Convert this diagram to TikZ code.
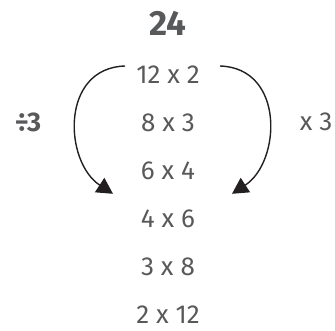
\documentclass[tikz,border=0pt]{standalone}
\usepackage{fontspec}
\setmainfont{Fira Sans}
\usetikzlibrary{arrows.meta}

\definecolor{txtgrey}{HTML}{58595B}
\definecolor{arcblack}{HTML}{231F20}

\begin{document}
\begin{tikzpicture}[
            x=1pt, y=-1pt,
            fact/.style={text=txtgrey, inner sep=1pt, font=\fontsize{26}{30}\selectfont},
            total/.style={text=txtgrey, inner sep=1pt, font=\fontsize{35}{40}\selectfont\bfseries},
            arc/.style={-{Triangle[length=16pt,width=17pt]}, line width=1.4pt, draw=arcblack}]

            \useasboundingbox (0,0) rectangle (335,331);

            \node[total] (top) at (168,23) {24};

            % factor pairs, one row each
            \foreach \txt [count=\i] in {12 x 2, 8 x 3, 6 x 4, 4 x 6, 3 x 8, 2 x 12}
                \node[fact] (r\i) at (168,{74.5+48.1*(\i-1)}) {\txt};

            \node[fact, font=\fontsize{27}{30}\selectfont\bfseries] (div) at (28,122) {÷3};
            \node[fact] (mul) at (316,122) {x 3};

            % swap arcs from the first row down to the fourth
            \draw[arc] ([shift={(-43,-8.5)}]r1.center) .. controls +(-65,2) and +(-49,-32) .. ([shift={(-55,-25)}]r4.center);
            \draw[arc] ([shift={(52,-8.5)}]r1.center) .. controls +(65,2) and +(49,-32) .. ([shift={(64,-25)}]r4.center);
        \end{tikzpicture}
\end{document}
